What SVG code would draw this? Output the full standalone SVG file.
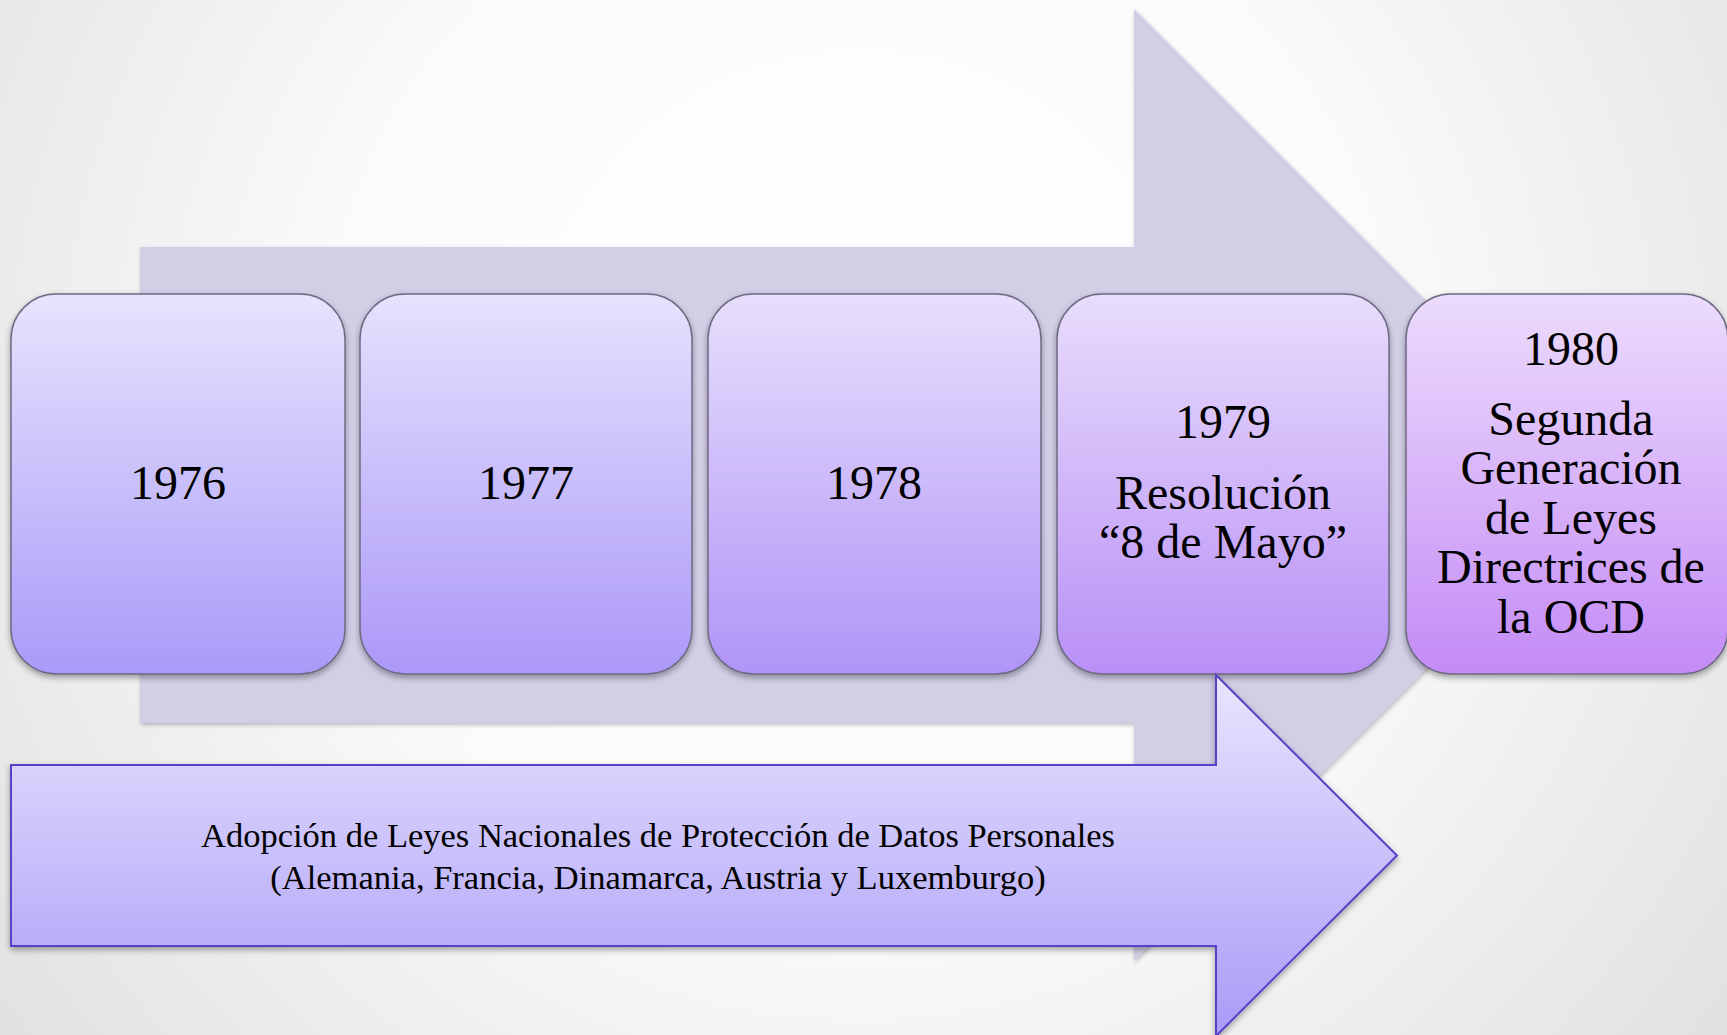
<svg xmlns="http://www.w3.org/2000/svg" width="1727" height="1035" viewBox="0 0 1727 1035">
<defs>
<radialGradient id="bg" gradientUnits="userSpaceOnUse" cx="860" cy="380" r="1150">
<stop offset="0" stop-color="#ffffff"/>
<stop offset="0.45" stop-color="#fbfbfb"/>
<stop offset="1" stop-color="#dedede"/>
</radialGradient>
<linearGradient id="g1" x1="0" y1="0" x2="0" y2="1"><stop offset="0" stop-color="#e8e3fd"/><stop offset="1" stop-color="#a89bf8"/></linearGradient>
<linearGradient id="g2" x1="0" y1="0" x2="0" y2="1"><stop offset="0" stop-color="#e7e1fd"/><stop offset="1" stop-color="#ab98f8"/></linearGradient>
<linearGradient id="g3" x1="0" y1="0" x2="0" y2="1"><stop offset="0" stop-color="#e7dffc"/><stop offset="1" stop-color="#b094f7"/></linearGradient>
<linearGradient id="g4" x1="0" y1="0" x2="0" y2="1"><stop offset="0" stop-color="#e8ddfc"/><stop offset="1" stop-color="#b98ff6"/></linearGradient>
<linearGradient id="g5" x1="0" y1="0" x2="0" y2="1"><stop offset="0" stop-color="#ecdcfc"/><stop offset="1" stop-color="#c48bf6"/></linearGradient>
<linearGradient id="ga" gradientUnits="userSpaceOnUse" x1="0" y1="675" x2="0" y2="1036"><stop offset="0" stop-color="#e9e5fe"/><stop offset="1" stop-color="#a99bf7"/></linearGradient>
<filter id="sh" x="-10%" y="-10%" width="120%" height="130%">
<feDropShadow dx="0" dy="3" stdDeviation="3" flood-color="#000" flood-opacity="0.35"/>
</filter>
<filter id="shl" x="-10%" y="-10%" width="120%" height="130%">
<feDropShadow dx="1" dy="2" stdDeviation="2" flood-color="#000" flood-opacity="0.25"/>
</filter>
<style>
.box{stroke:#6e6a82;stroke-width:1.5;filter:url(#sh)}
.t{font-family:"Liberation Serif","Times New Roman",serif;font-size:48px;fill:#000;text-anchor:middle}
.s{font-family:"Liberation Serif","Times New Roman",serif;font-size:34.5px;fill:#000;text-anchor:middle}
</style>
</defs>
<rect width="1727" height="1035" fill="url(#bg)"/>
<g id="connectors">
<path id="big-arrow" d="M140,247 H1134 V9 L1610,485 L1134,961 V723 H140 Z" fill="#d1cee6" filter="url(#shl)"/>
</g>
<g id="node-1976">
<rect class="box" x="11" y="294" width="334" height="380" rx="45" fill="url(#g1)"/>
<text class="t" x="178" y="499">1976</text>
</g>
<g id="node-1977">
<rect class="box" x="360" y="294" width="332" height="380" rx="45" fill="url(#g2)"/>
<text class="t" x="526" y="499">1977</text>
</g>
<g id="node-1978">
<rect class="box" x="708" y="294" width="333" height="380" rx="45" fill="url(#g3)"/>
<text class="t" x="874" y="499">1978</text>
</g>
<g id="node-1979">
<rect class="box" x="1057" y="294" width="332" height="380" rx="45" fill="url(#g4)"/>
<text class="t" x="1223" y="438">1979</text>
<text class="t" x="1223" y="509">Resolución</text>
<text class="t" x="1223" y="558">“8 de Mayo”</text>
</g>
<g id="node-1980">
<rect class="box" x="1406" y="294" width="322" height="380" rx="45" fill="url(#g5)"/>
<text class="t" x="1571" y="365">1980</text>
<text class="t" x="1571" y="435">Segunda</text>
<text class="t" x="1571" y="484">Generación</text>
<text class="t" x="1571" y="534">de Leyes</text>
<text class="t" x="1571" y="583">Directrices de</text>
<text class="t" x="1571" y="633">la OCD</text>
</g>
<g id="node-adopcion">
<path d="M11,765 H1216 V675 L1397,855.5 L1216,1036 V946 H11 Z" fill="url(#ga)" stroke="#5a3fc6" stroke-width="2" filter="url(#sh)"/>
<text class="s" x="658" y="847">Adopción de Leyes Nacionales de Protección de Datos Personales</text>
<text class="s" x="658" y="889">(Alemania, Francia, Dinamarca, Austria y Luxemburgo)</text>
</g>
</svg>
